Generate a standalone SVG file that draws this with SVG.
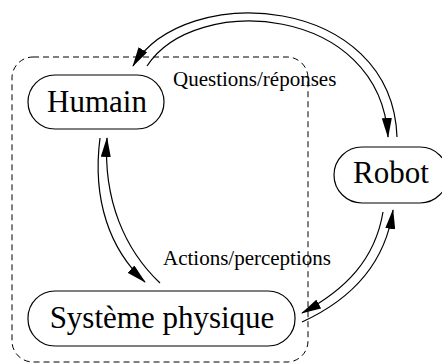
<svg xmlns="http://www.w3.org/2000/svg" width="442" height="363" viewBox="0 0 442 363">
<style>
.node{fill:#fff;stroke:#000;stroke-width:1.2}
.lbl{font-family:"Liberation Serif","Times New Roman",serif;fill:#000}
.big{font-size:31px;text-anchor:middle}
.small{font-size:21px}
.edge{fill:none;stroke:#000;stroke-width:1.2;marker-end:url(#ah)}
</style>
<defs>
<marker id="ah" markerUnits="userSpaceOnUse" markerWidth="20" markerHeight="10" refX="19" refY="5" orient="auto" viewBox="0 0 20 10">
<path d="M0,0 L20,5 L0,10 z" fill="#000"/>
</marker>
</defs>
<rect x="12" y="57" width="296" height="305" rx="21" fill="none" stroke="#000" stroke-width="1" stroke-dasharray="6,4"/>
<g id="connectors">
<path class="edge" d="M397,137 C392,-5 185,-20 133,66"/>
<path class="edge" d="M147,66 C195,-8 380,5 388,137"/>
<path class="edge" d="M160,283 C125,250 103,200 107,138"/>
<path class="edge" d="M100,138 C92,200 110,250 145,282"/>
<path class="edge" d="M302,322 C350,300 385,265 393,210"/>
<path class="edge" d="M383,212 C375,260 345,290 302,313"/>
</g>
<text class="lbl small" x="173" y="86">Questions/réponses</text>
<text class="lbl small" x="163" y="265">Actions/perceptions</text>
<g id="humain">
<rect class="node" x="28" y="75" width="136" height="54" rx="27"/>
<text class="lbl big" x="97" y="112">Humain</text>
</g>
<g id="robot">
<rect class="node" x="334" y="147" width="114" height="56" rx="28"/>
<text class="lbl big" x="391" y="183">Robot</text>
</g>
<g id="systeme">
<rect class="node" x="28" y="291" width="267" height="55" rx="27"/>
<text class="lbl big" x="162" y="328">Système physique</text>
</g>
</svg>
